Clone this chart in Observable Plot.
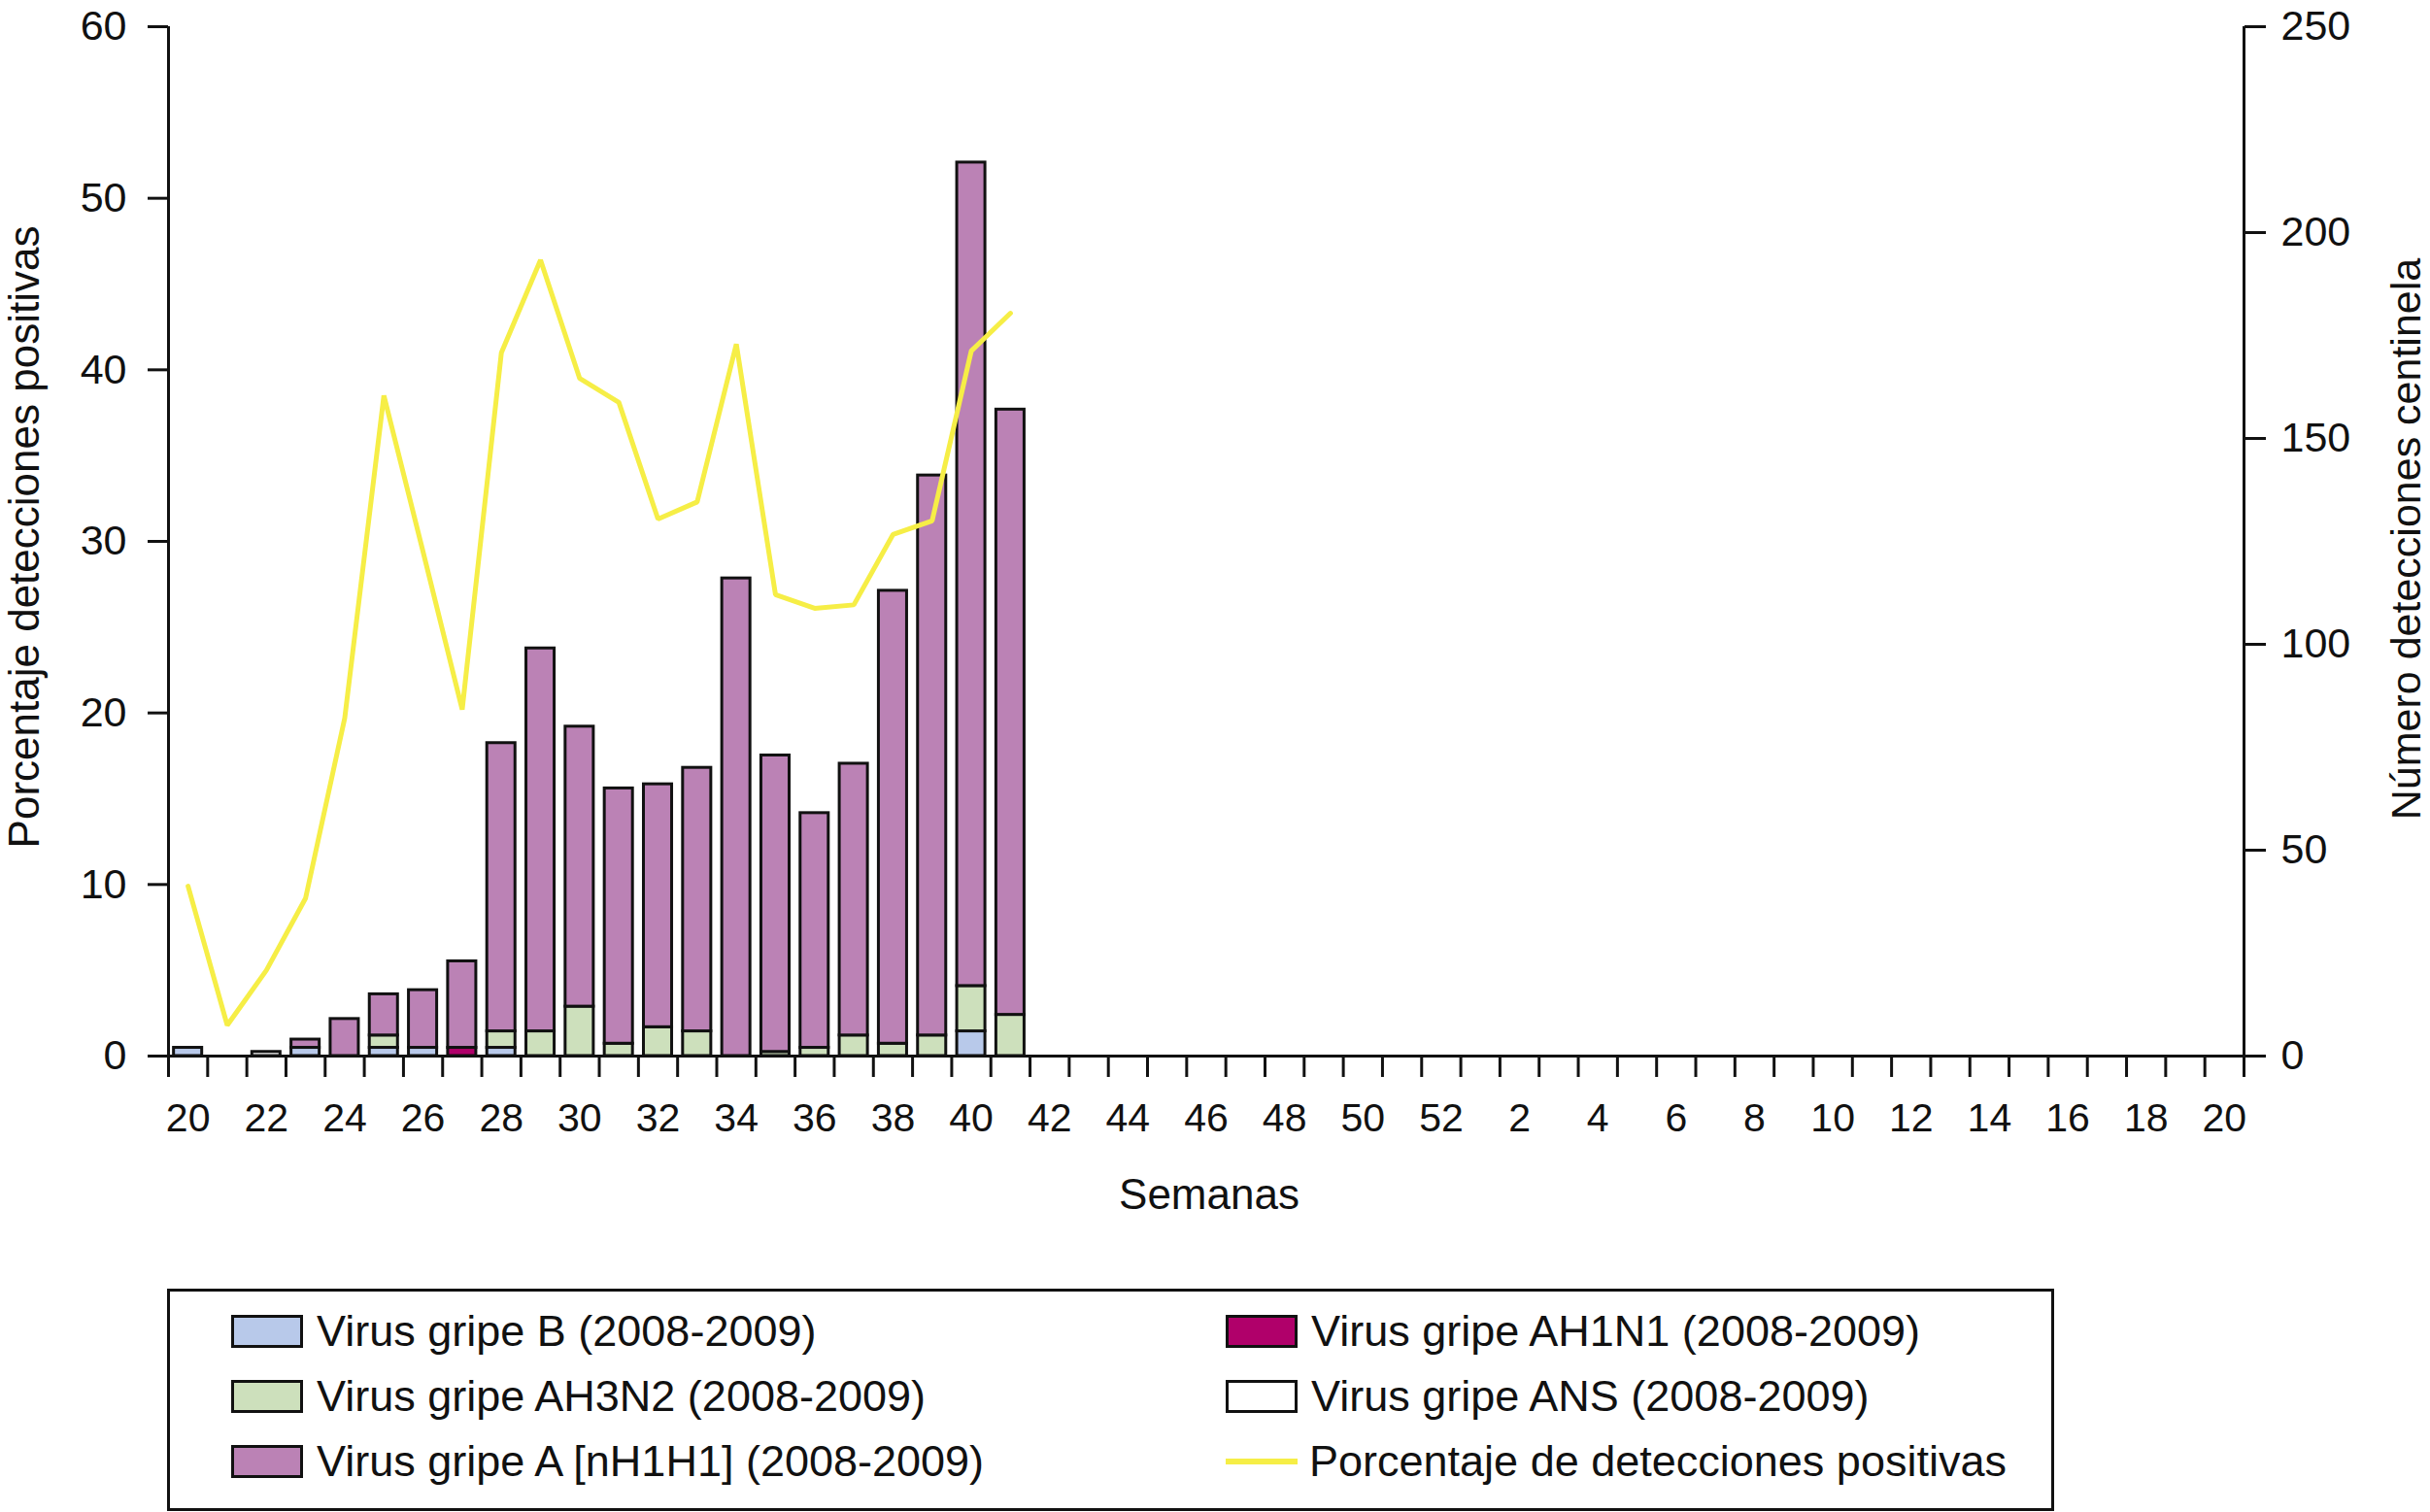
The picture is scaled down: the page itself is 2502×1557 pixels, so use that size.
<!DOCTYPE html>
<html><head><meta charset="utf-8">
<script src="https://cdn.jsdelivr.net/npm/d3@7"></script>
<script src="https://cdn.jsdelivr.net/npm/@observablehq/plot@0.6"></script>
<style>
body{margin:0;background:#fff;font-family:"Liberation Sans",Arial,sans-serif;}
#wrap{position:relative;width:2502px;height:1557px;}
#chart{position:absolute;left:0;top:0;}
#legend{position:absolute;left:172px;top:1327px;width:1943px;height:229px;border:3px solid #111;box-sizing:border-box;}
.item{position:absolute;height:44px;display:flex;align-items:center;font-size:45px;color:#111;white-space:nowrap;}
.sw{width:68px;height:28px;border:3px solid #111;margin-right:14px;flex:none;}
.ln{width:74px;height:6px;margin-right:12px;flex:none;}
</style></head>
<body><div id="wrap"><div id="chart"></div><div id="legend"></div></div>
<script>
// x tick labels (weeks 20 of 2009 through 20 of 2010)
const weekLabels = [20,21,22,23,24,25,26,27,28,29,30,31,32,33,34,35,36,37,38,39,40,41,42,43,44,45,46,47,48,49,50,51,52,1,2,3,4,5,6,7,8,9,10,11,12,13,14,15,16,17,18,19,20];
// weeks with data
const dataWeeks   = [20,21,22,23,24,25,26,27,28,29,30,31,32,33,34,35,36,37,38,39,40,41];
// number of sentinel detections (right axis)
const virusB      = [2,0,0,2,0,2,2,0,2,0,0,0,0,0,0,0,0,0,0,0,6,0];
const virusAH1N1  = [0,0,0,0,0,0,0,2,0,0,0,0,0,0,0,0,0,0,0,0,0,0];
const virusAH3N2  = [0,0,0,0,0,3,0,0,4,6,12,3,7,6,0,1,2,5,3,5,11,10];
const virusANS    = [0,0,1,0,0,0,0,0,0,0,0,0,0,0,0,0,0,0,0,0,0,0];
const virusAnH1H1 = [0,0,0,2,9,10,14,21,70,93,68,62,59,64,116,72,57,66,110,136,200,147];
// percentage of positive detections (left axis)
const pctPositive = [9.9,1.8,5.0,9.2,19.7,38.5,29.4,20.2,41.0,46.4,39.5,38.1,31.3,32.3,41.5,26.9,26.1,26.3,30.4,31.2,41.1,43.3];

const seriesNames = ["Virus gripe B (2008-2009)","Virus gripe AH1N1 (2008-2009)","Virus gripe AH3N2 (2008-2009)","Virus gripe ANS (2008-2009)","Virus gripe A [nH1H1] (2008-2009)"];
const seriesColors = ["#b8c9ea","#b0006a","#cde0bc","#ffffff","#bb82b5"];
const lineName = "Porcentaje de detecciones positivas";
const lineColor = "#f6ee46";
const leftTicks = [0,10,20,30,40,50,60];
const rightTicks = [0,50,100,150,200,250];

const seriesValues = [virusB, virusAH1N1, virusAH3N2, virusANS, virusAnH1H1];
const K = 250/60;
const rows = [];
dataWeeks.forEach((w,i)=>{
  let c = 0;
  seriesValues.forEach((arr,s)=>{
    const v = arr[i];
    if (v>0){ rows.push({idx: weekLabels.indexOf(w), series: seriesNames[s], y1: c, y2: c+v}); c += v; }
  });
});
const lineData = dataWeeks.map((w,i)=>({idx: weekLabels.indexOf(w), v: pctPositive[i]*K}));
const n = weekLabels.length;
const evenIdx = d3.range(0,n,2);

const plot = Plot.plot({
  width: 2502, height: 1300,
  marginLeft: 173, marginRight: 192, marginTop: 27, marginBottom: 213,
  style: {fontFamily: '"Liberation Sans", Arial, sans-serif', color:"#111", background:"#fff"},
  x: {type:"linear", domain:[0,n], axis:null},
  y: {domain:[0,250], axis:null},
  color: {domain: seriesNames, range: seriesColors},
  marks: [
    Plot.rectY(rows, {x1: d=>d.idx+0.14, x2: d=>d.idx+0.86, y1:"y1", y2:"y2", fill:"series", stroke:"#111", strokeWidth:3}),
    Plot.line(lineData, {x: d=>d.idx+0.5, y:"v", stroke: lineColor, strokeWidth:5, strokeLinejoin:"miter"}),
    Plot.ruleX([0, n], {stroke:"#111", strokeWidth:3}),
    Plot.ruleY([0], {stroke:"#111", strokeWidth:3}),
    Plot.axisY(leftTicks.map(p=>p*K), {anchor:"left", tickFormat: d=>String(Math.round(d/K)), tickSize:21, tickPadding:22, fontSize:43, strokeWidth:3, label:null}),
    Plot.axisY(rightTicks, {anchor:"right", tickSize:22, tickPadding:16, fontSize:43, strokeWidth:3, label:null}),
    Plot.axisX(d3.range(0,n+1), {anchor:"bottom", tickSize:22, tickFormat: ()=>"", strokeWidth:3, label:null}),
    Plot.axisX(evenIdx.map(i=>i+0.5), {anchor:"bottom", tickSize:0, tickPadding:48, fontSize:41, tickFormat: d=>String(weekLabels[Math.round(d-0.5)]), label:null})
  ]
});
document.getElementById("chart").appendChild(plot);
const svg = d3.select(plot);
svg.append("text").attr("x",1245).attr("y",1229).attr("text-anchor","middle").attr("dominant-baseline","central")
  .attr("font-size",44).attr("fill","#111").text("Semanas");
svg.append("text").attr("transform","translate(24,553) rotate(-90)").attr("text-anchor","middle").attr("dominant-baseline","central")
  .attr("font-size",44).attr("fill","#111").text("Porcentaje detecciones positivas");
svg.append("text").attr("transform","translate(2477,555) rotate(-90)").attr("text-anchor","middle").attr("dominant-baseline","central")
  .attr("font-size",43).attr("fill","#111").text("Número detecciones centinela");

// legend
const legendItems = [
  {label: seriesNames[0], color: seriesColors[0], col:0, row:0},
  {label: seriesNames[2], color: seriesColors[2], col:0, row:1},
  {label: seriesNames[4], color: seriesColors[4], col:0, row:2},
  {label: seriesNames[1], color: seriesColors[1], col:1, row:0},
  {label: seriesNames[3], color: seriesColors[3], col:1, row:1},
  {label: lineName, color: lineColor, col:1, row:2, line:true}
];
const leg = document.getElementById("legend");
legendItems.forEach(it=>{
  const d = document.createElement("div");
  d.className = "item";
  d.style.left = (it.col===0 ? 63 : 1087) + "px";
  d.style.top = (19 + it.row*67) + "px";
  const s = document.createElement("div");
  s.className = it.line ? "ln" : "sw";
  s.style.background = it.color;
  d.appendChild(s);
  const t = document.createElement("span");
  t.textContent = it.label;
  d.appendChild(t);
  leg.appendChild(d);
});
</script>
</body></html>
